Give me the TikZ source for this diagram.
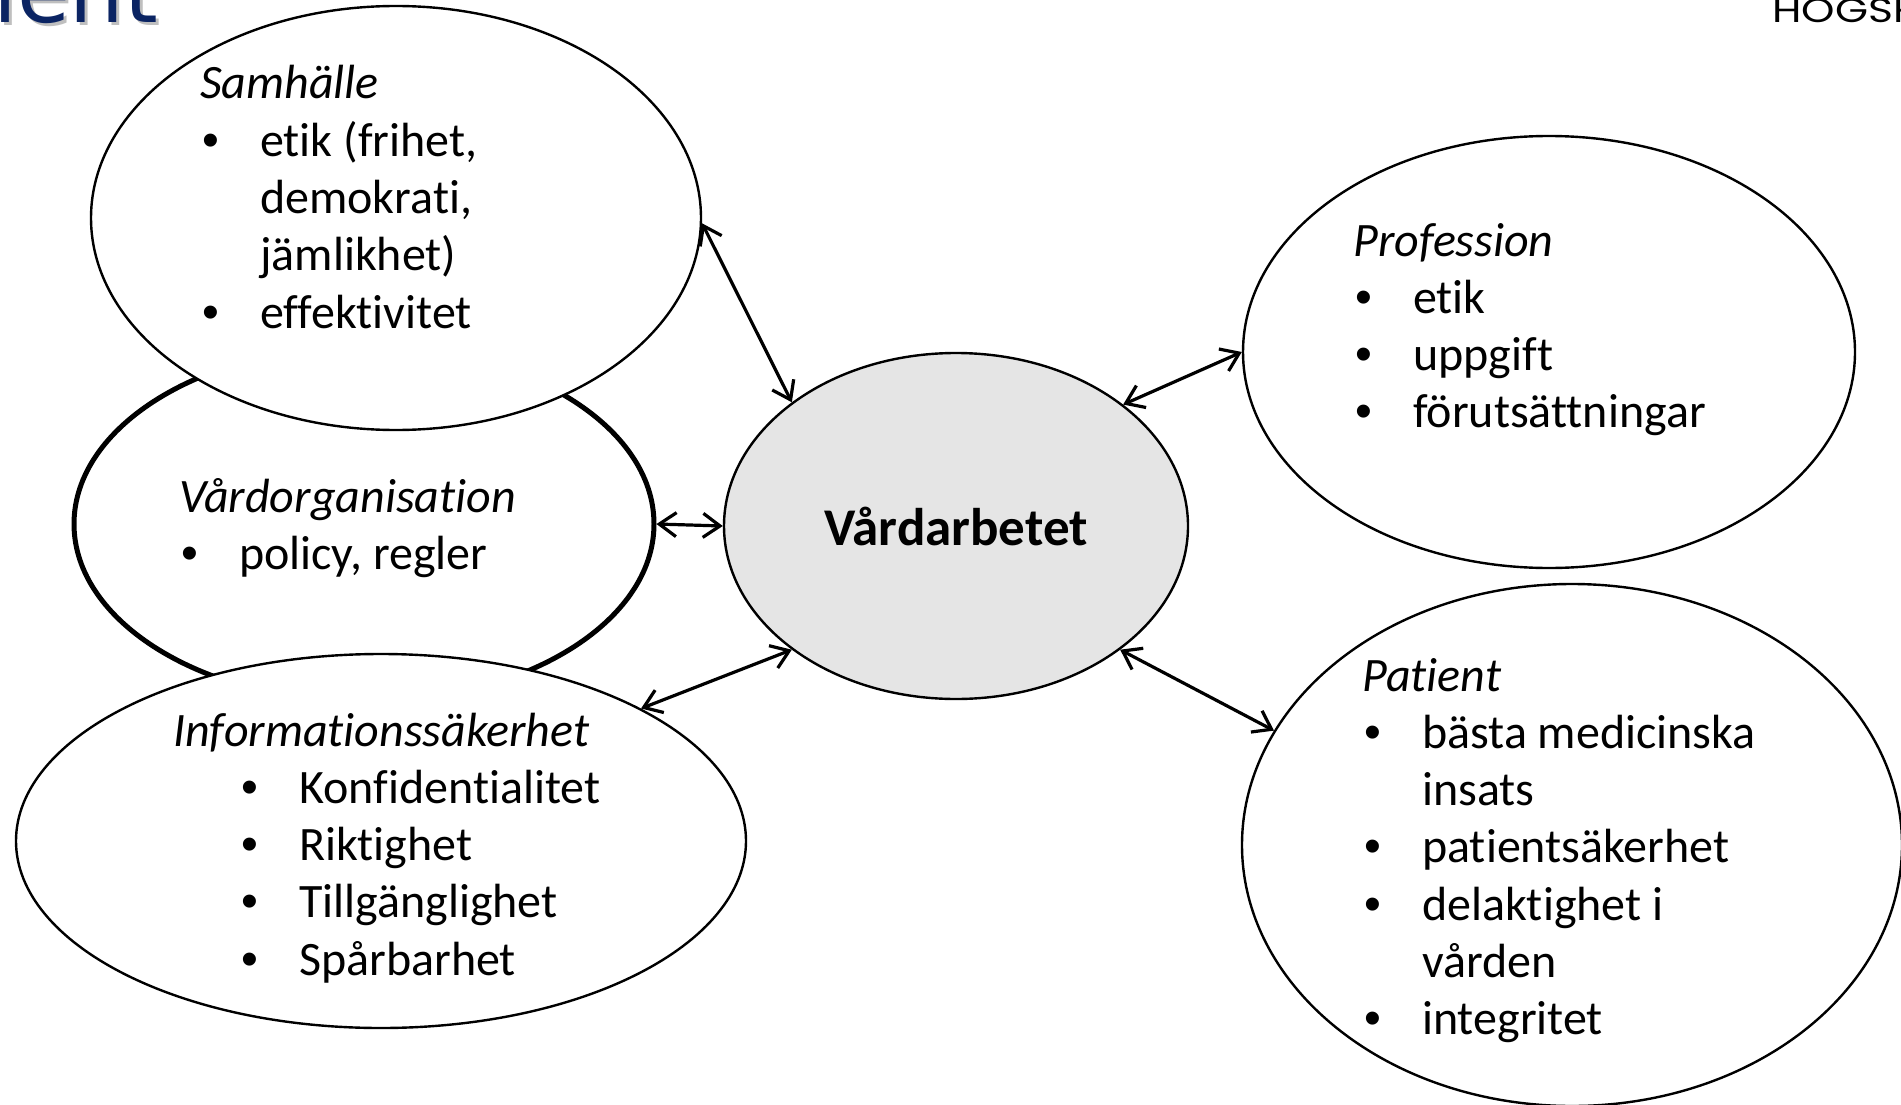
\documentclass[tikz,border=0pt]{standalone}
\usepackage{fontspec}
\setmainfont{Carlito}[Ligatures=NoCommon]
\newfontfamily\headfont{DejaVu Sans}
\newfontfamily\logofont{Poppins}
\newfontfamily\bulletfont{Liberation Sans}
\usetikzlibrary{shapes.geometric,arrows.meta}
\definecolor{navy}{HTML}{0B2463}
\newcommand{\blt}{\makebox[58pt][l]{\bulletfont\textbullet}}

\begin{document}
\begin{tikzpicture}[x=1pt,y=-1pt]
	\tikzset{
	    bubble/.style={draw, ellipse, fill=white, line width=2.4pt, inner sep=0pt},
	    barb/.tip={Straight Barb[length=17pt,width=24pt,line width=3.2pt]},
	    link/.style={barb-barb, line width=3.2pt},
	    itemlist/.style={anchor=base west, inner sep=0pt, font=\fontsize{48}{57.3}\selectfont}
	}
	\path[use as bounding box] (0,0) rectangle (1901,1105);
	\clip (0,0) rectangle (1901,1105);

	% slide header, cut off by the frame
	\node[anchor=base west, inner sep=0pt, text=black!25, font=\headfont\fontsize{86}{86}\selectfont] (headshadow) at (-4,26) {ient};
	\node[anchor=base west, inner sep=0pt, text=navy, font=\headfont\fontsize{86}{86}\selectfont] (head) at (-7,23) {ient};
	\node[anchor=base west, inner sep=0pt, xscale=1.25, font=\logofont\fontsize{34}{34}\selectfont] (logo) at (1772,23) {HÖGSK};

	% ellipses
	\node[bubble, line width=5pt, minimum width=580pt, minimum height=356pt] (org) at (364,524) {};
	\node[bubble, minimum width=610pt, minimum height=424pt] (samh) at (396,218) {};
	\node[bubble, minimum width=730pt, minimum height=374pt] (info) at (381,841) {};
	\node[bubble, fill=black!10, minimum width=464pt, minimum height=346pt,
	      font=\bfseries\fontsize{53}{60}\selectfont] (vard) at (956,526) {Vårdarbetet};
	\node[bubble, minimum width=612pt, minimum height=432pt] (prof) at (1549,352) {};
	\node[bubble, minimum width=660pt, minimum height=522pt] (pat) at (1572,845) {};

	% texts
	\node[itemlist] (samhtext) at (200,99) {\begin{tabular}[t]{@{}l@{}l@{}}
	    \multicolumn{2}{@{}l@{}}{\textit{Samhälle}}\\
	    \hspace{2pt}\blt & etik (frihet,\\
	    & demokrati,\\
	    & jämlikhet)\\
	    \hspace{2pt}\blt & effektivitet
	  \end{tabular}};
	\node[itemlist] (orgtext) at (179,512) {\begin{tabular}[t]{@{}l@{}l@{}}
	    \multicolumn{2}{@{}l@{}}{\textit{Vårdorganisation}}\\
	    \hspace{2pt}\blt & policy, regler
	  \end{tabular}};
	\node[itemlist] (infotext) at (173,746) {\begin{tabular}[t]{@{}l@{}l@{}}
	    \multicolumn{2}{@{}l@{}}{\textit{Informationssäkerhet}}\\
	    \hspace{68pt}\blt & Konfidentialitet\\
	    \hspace{68pt}\blt & Riktighet\\
	    \hspace{68pt}\blt & Tillgänglighet\\
	    \hspace{68pt}\blt & Spårbarhet
	  \end{tabular}};
	\node[itemlist] (proftext) at (1353,256) {\begin{tabular}[t]{@{}l@{}l@{}}
	    \multicolumn{2}{@{}l@{}}{\textit{Profession}}\\
	    \hspace{2pt}\blt & etik\\
	    \hspace{2pt}\blt & uppgift\\
	    \hspace{2pt}\blt & förutsättningar
	  \end{tabular}};
	\node[itemlist] (pattext) at (1362,691) {\begin{tabular}[t]{@{}l@{}l@{}}
	    \multicolumn{2}{@{}l@{}}{\textit{Patient}}\\
	    \hspace{2pt}\blt & bästa medicinska\\
	    & insats\\
	    \hspace{2pt}\blt & patientsäkerhet\\
	    \hspace{2pt}\blt & delaktighet i\\
	    & vården\\
	    \hspace{2pt}\blt & integritet
	  \end{tabular}};

	% connectors
	\draw[link] (samh.-1) -- (vard.143);
	\draw[link] (org.0) -- (vard.180);
	\draw[link] (info.27) -- (vard.217);
	\draw[link] (prof.180) -- (vard.36.5);
	\draw[link] (pat.159) -- (vard.-37);
\end{tikzpicture}
\end{document}
